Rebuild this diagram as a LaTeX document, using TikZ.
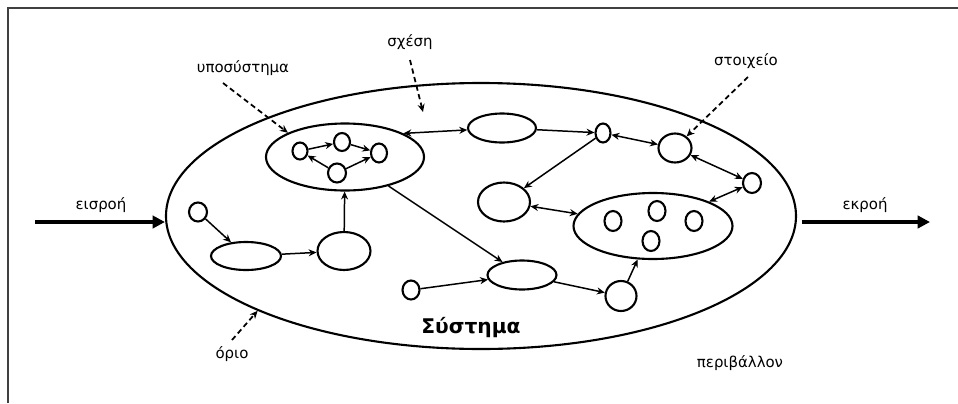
\documentclass[tikz,border=0pt]{standalone}
\usepackage{fontspec}
\setmainfont{DejaVu Sans}
\usetikzlibrary{shapes.geometric,arrows.meta}
\begin{document}
\begin{tikzpicture}[x=0.02cm,y=-0.02cm,
  sz/.style 2 args={minimum width=#1*0.02cm, minimum height=#2*0.02cm},
  el/.style={draw, ellipse, inner sep=0pt, line width=1.2pt},
  con/.style={line width=0.85pt, -{Stealth[length=4.5pt,width=4pt]}},
  bicon/.style={line width=0.85pt, {Stealth[length=4.5pt,width=4pt]}-{Stealth[length=4.5pt,width=4pt]}},
  ptr/.style={line width=1pt, dash pattern=on 3pt off 2pt, -{Stealth[length=4.5pt,width=4pt]}},
  flow/.style={line width=2.2pt, -{Triangle[length=7pt,width=7pt]}},
  lbl/.style={font=\fontsize{8.5}{10}\selectfont, inner sep=0pt},
]
\useasboundingbox (0,0) rectangle (958,403);
% frame
\draw[line width=1.1pt, black!75] (8,403) -- (8,8) -- (958,8);

% system boundary
\node[el, sz={630}{266}] (sys) at (481,216) {};

% subsystem
\node[el, sz={158}{67}] (sub) at (345,157) {};
\node[el, sz={15}{17}] (c1) at (300,151) {};
\node[el, sz={16}{18}] (c2) at (342,142) {};
\node[el, sz={16}{19}] (c3) at (379,153) {};
\node[el, sz={18}{19}] (c4) at (337,173) {};

% other elements
\node[el, sz={68}{29}] (ov1) at (502,128) {};
\node[el, sz={15}{19}] (e1) at (603,133) {};
\node[el, sz={33}{29}] (e2) at (675,148) {};
\node[el, sz={18}{20}] (e3) at (752,183) {};
\node[el, sz={52}{39}] (e4) at (504,202) {};
\node[el, sz={159}{66}] (grp) at (653,226) {};
\node[el, sz={17}{20}] (g1) at (613,221) {};
\node[el, sz={17}{20}] (g2) at (657,211) {};
\node[el, sz={17}{20}] (g3) at (694,221) {};
\node[el, sz={17}{20}] (g4) at (651,241) {};
\node[el, sz={69}{29}] (e5) at (522,275) {};
\node[el, sz={17}{19}] (e6) at (411,290) {};
\node[el, sz={31}{30}] (e7) at (621,296) {};
\node[el, sz={18}{19}] (l1) at (198,212) {};
\node[el, sz={70}{28}] (l2) at (246,256) {};
\node[el, sz={53}{38}] (l3) at (344,251) {};

% connectors
\draw[con] (c1) -- (c2);
\draw[con] (c2) -- (c3);
\draw[con] (c4) -- (c3);
\draw[con] (c4) -- (c1);
\draw[bicon] (sub.22) -- (ov1);
\draw[con] (ov1) -- (e1);
\draw[bicon] (e1) -- (e2);
\draw[bicon] (e2) -- (e3);
\draw[bicon] (e3) -- (grp);
\draw[con] (e1) -- (e4);
\draw[bicon] (grp) -- (e4);
\draw[con] (sub) -- (e5);
\draw[con] (e6) -- (e5);
\draw[con] (e5) -- (e7);
\draw[con] (e7) -- (grp);
\draw[con] (l1) -- (l2);
\draw[con] (l2) -- (l3);
\draw[con] (l3) -- (sub);

% input / output
\coordinate (inS) at (35,222);
\coordinate (outE) at (930,222);
\draw[flow] (inS) -- (inS -| sys.west);
\draw[flow, shorten <=3pt] (outE -| sys.east) -- (outE);

% labels
\node[lbl] (lin) at (101,205) {εισροή};
\node[lbl] (lout) at (865,205) {εκροή};
\node[lbl] (lsub) at (243,68) {υποσύστημα};
\node[lbl] (lrel) at (410,42) {σχέση};
\node[lbl] (lel) at (746,61) {στοιχείο};
\node[lbl] (lbnd) at (232,354) {όριο};
\node[lbl] (lenv) at (740,363) {περιβάλλον};
\node[inner sep=0pt, font=\bfseries\fontsize{11.5}{13}\selectfont] (lsys) at (471,328) {Σύστημα};

% dashed pointers
\coordinate (psub) at (223,83);
\coordinate (prel) at (410,60);
\coordinate (prelE) at (423,112);
\coordinate (pel) at (748,77);
\coordinate (pbnd) at (232,340);
\draw[ptr] (psub) -- (sub.157);
\draw[ptr] (prel) -- (prelE);
\draw[ptr] (pel) -- (e2.45);
\draw[ptr] (pbnd) -- (sys.203);
\end{tikzpicture}
\end{document}
